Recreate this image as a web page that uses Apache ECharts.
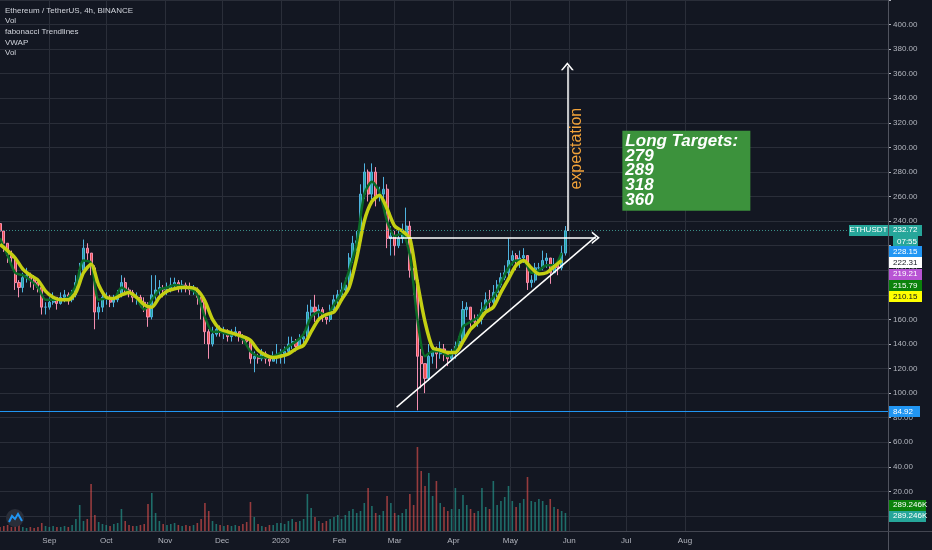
<!DOCTYPE html>
<html>
<head>
<meta charset="utf-8">
<script src="https://cdn.jsdelivr.net/npm/echarts@6/dist/echarts.min.js"></script>
<style>
html,body{margin:0;padding:0;background:#131722;overflow:hidden;}
#c{width:932px;height:550px;}
</style>
</head>
<body>
<div id="c"></div>
<script>
// ---------------- DATA ----------------
const startDate = '2019-08-06';
const totalDays = 469;          // daily categories of the time axis
const candleStepDays = 2;       // one candle every 2 days
const maStepDays = 4;           // moving-average samples every 4 days
const firstOpen = 238;

const closes = [
232,222,212,210,190,186,194,196,192,190,186,170,170,
174,178,173,178,180,176,180,190,200,218,214,202,166,170,178,
178,174,176,180,190,184,182,178,178,174,172,162,180,184,186,184,
184,188,190,186,188,186,184,184,178,174,150,140,148,152,150,
150,146,148,150,146,144,142,128,130,128,132,128,126,130,130,
132,134,140,142,138,144,146,166,170,166,168,162,160,168,176,180,
184,188,210,222,224,262,280,262,280,260,262,266,226,228,
220,226,230,236,200,192,130,124,112,130,134,132,136,134,128,132,
138,142,168,170,160,158,160,168,176,174,182,188,194,198,208,
212,208,210,212,190,192,202,202,208,210,198,204,202,214,232
];
const highs = [
242,232,222,216,212,192,198,202,198,196,192,188,174,
178,182,178,182,184,182,184,196,206,225,222,214,204,174,182,
182,180,180,184,196,194,186,184,182,180,178,174,196,196,192,188,
190,194,194,192,192,190,190,188,186,178,176,152,154,156,155,
154,152,152,154,150,148,146,142,134,132,136,134,130,134,140,
136,138,146,146,144,148,150,172,176,180,172,170,164,172,180,184,
190,194,214,228,232,270,287,282,287,284,268,276,270,236,
232,232,238,251,240,202,196,136,124,140,140,138,142,140,134,136,
142,146,175,174,170,164,164,174,182,184,188,192,198,204,226,
216,214,216,218,212,196,206,206,216,214,210,210,208,220,236
];
const lows = [
228,215,206,204,184,178,182,190,186,184,182,164,164,
168,172,168,172,174,172,174,178,188,198,208,196,152,160,166,
172,170,170,174,178,180,178,174,172,170,166,154,160,176,180,178,
180,182,184,182,182,182,180,180,172,160,140,128,138,146,146,
144,142,142,146,142,140,138,124,117,124,126,124,122,126,124,
124,124,132,136,134,136,140,144,162,158,160,158,156,158,166,172,
178,182,186,206,216,220,258,256,258,252,256,256,218,212,
212,218,222,226,194,180,86,104,100,110,124,120,128,126,122,126,
128,134,140,162,154,154,154,156,166,168,170,178,186,192,194,
204,200,202,206,184,186,190,196,200,202,189,198,196,200,212
];
const volumes = [
4,5,6,4,9,6,4,3,4,3,4,8,5,
4,5,4,4,5,4,6,12,26,10,12,47,16,9,7,
6,5,7,8,22,10,6,5,5,6,7,27,38,18,10,7,
6,7,8,6,5,6,5,6,8,12,28,20,10,7,6,
5,6,5,6,5,7,9,29,14,7,5,4,6,6,8,
8,7,10,12,9,10,12,37,23,14,10,8,10,12,14,16,
12,16,20,22,18,20,28,43,25,18,16,20,35,28,18,16,18,22,37,26,
84,60,45,58,35,50,28,24,20,22,
43,22,36,26,22,18,20,43,24,22,50,26,30,34,45,
30,24,28,32,54,30,29,32,30,26,32,24,22,20,18
];
const yellowLine = [
221,216,210,201,196,192,183,178,176,176,182,198,205,188,178,
177,180,182,178,172,170,178,183,185,186,186,184,175,160,152,
150,148,146,143,135,131,129,130,132,136,139,150,160,164,166,
176,186,210,240,256,261,250,236,232,226,190,158,137,135,133,
133,142,152,158,166,170,182,193,204,208,202,197,198,203,208
];
const greenLine = [
226,212,198,196,192,186,176,176,176,178,188,208,206,176,177,
177,186,182,177,168,176,184,186,188,187,185,180,162,150,150,
148,148,144,134,130,129,130,133,138,142,148,162,166,163,172,
182,200,222,262,272,264,240,228,230,212,160,130,134,134,130,
136,154,158,162,172,178,190,202,208,208,198,200,204,204,214
];
const monthTickDates = ['2019-09-01','2019-10-01','2019-11-01','2019-12-01','2020-01-01','2020-02-01',
  '2020-03-01','2020-04-01','2020-05-01','2020-06-01','2020-07-01','2020-08-01'];
const monthTickLabels = ['Sep','Oct','Nov','Dec','2020','Feb','Mar','Apr','May','Jun','Jul','Aug'];
const legendLines = ['Ethereum / TetherUS, 4h, BINANCE','Vol','fabonacci Trendlines','VWAP','Vol'];
const symbolName = 'ETHUSDT';
const lastPrice = 232.72;
const countdownText = '07:55';
const supportLevel = 84.92;
const sideLabelTexts = ['228.15','222.31','219.21','215.79','210.15'];
const volumeLabelTexts = ['289.246K','289.246K'];
const targetsText = ['Long Targets:','279','289','318','360'];
const expectationText = 'expectation';
// drawing anchors (date, price)
const breakoutLine = [['2020-02-27', 226.5], ['2020-06-15', 226.5]];
const trendLine = [['2020-03-02', 88.6], ['2020-06-15', 227.4]];
const targetArrow = [['2020-05-31', 232], ['2020-05-31', 366]];
const expectationAnchor = ['2020-06-05', 299];
const targetsBoxAnchor = ['2020-06-29', 313.5];

// ---------------- STYLE ----------------
const BG = '#131722', GRID = '#2a2e39', TXT = '#b2b5be';
const UP = '#26a69a', DOWN = '#ef5350';
const FONT = 'Liberation Sans, Arial, sans-serif';
const sideLabelColors = [['#2196f3','#ffffff'],['#ffffff','#131722'],['#b854d4','#ffffff'],['#0b820b','#ffffff'],['#ffff00','#131722']];
const volumeLabelColors = [['#0b820b','#ffffff'],['#26a69a','#ffffff']];
const chevron = 'path://M0,10 L5,0 L10,10 L8.5,10 L5,3 L1.5,10 Z';

// ---------------- BUILD ----------------
const categories = [];
const t0 = Date.parse(startDate + 'T00:00:00Z');
for (let k = 0; k < totalDays; k++) categories.push(new Date(t0 + k * 86400000).toISOString().slice(0, 10));
const idx = d => categories.indexOf(d);
const monthSet = new Set(monthTickDates);

const opens = closes.map((c, i) => i === 0 ? firstOpen : closes[i - 1]);
const candleData = closes.map((c, i) => [i * candleStepDays, opens[i], c, lows[i], highs[i]]);
const volData = volumes.map((v, i) => ({
  value: [i * candleStepDays, v],
  itemStyle: { color: closes[i] >= opens[i] ? 'rgba(38,166,154,0.6)' : 'rgba(239,83,80,0.6)' }
}));
const yellowData = yellowLine.map((v, j) => [j * maStepDays, v]);
const greenData = greenLine.map((v, j) => [j * maStepDays, v]);
const pt = p => [idx(p[0]), p[1]];

const chart = echarts.init(document.getElementById('c'));
chart.setOption({
  backgroundColor: BG,
  animation: false,
  grid: [
    { left: 0, right: 44, top: -1, bottom: 34 },
    { left: 0, right: 44, top: 431, bottom: 19 }
  ],
  xAxis: [
    { type: 'category', gridIndex: 0, data: categories, boundaryGap: false,
      axisLine: { show: false }, axisTick: { show: false }, axisLabel: { show: false },
      splitLine: { show: true, interval: (i, v) => monthSet.has(v), lineStyle: { color: GRID, width: 1 } } },
    { type: 'category', gridIndex: 1, data: categories, boundaryGap: false,
      axisLine: { show: true, lineStyle: { color: '#434651' } }, axisTick: { show: false },
      axisLabel: { show: true, interval: (i, v) => monthSet.has(v), color: TXT, fontSize: 8, fontFamily: FONT, margin: 6,
        formatter: v => monthTickLabels[monthTickDates.indexOf(v)] || '' },
      splitLine: { show: true, interval: (i, v) => monthSet.has(v), lineStyle: { color: GRID, width: 1 } } }
  ],
  yAxis: [
    { type: 'value', gridIndex: 0, position: 'right', min: 0, max: 420, interval: 20,
      axisLine: { show: false }, axisTick: { show: true, length: 3, lineStyle: { color: TXT } },
      axisLabel: { color: TXT, fontSize: 8, fontFamily: FONT, margin: 5,
        formatter: v => (v > 0 && v <= 400) ? v.toFixed(2) : '' },
      splitLine: { show: true, lineStyle: { color: GRID, width: 1 } } },
    { type: 'value', gridIndex: 1, min: 0, max: 100, show: false }
  ],
  series: [
    { type: 'bar', xAxisIndex: 1, yAxisIndex: 1, data: volData, barWidth: 1.6, z: 1 },
    { type: 'candlestick', xAxisIndex: 0, yAxisIndex: 0, data: candleData, barWidth: 2.6, z: 2,
      dimensions: ['day', 'open', 'close', 'lowest', 'highest'],
      encode: { x: 'day', y: ['open', 'close', 'lowest', 'highest'] },
      itemStyle: { color: UP, color0: DOWN, borderColor: '#4fb3e0', borderColor0: '#f48fb1', borderWidth: 1 } },
    { type: 'line', xAxisIndex: 0, yAxisIndex: 0, data: greenData, smooth: 0.25, showSymbol: false, z: 3,
      lineStyle: { color: '#0b6a26', width: 2.5 } },
    { type: 'line', xAxisIndex: 0, yAxisIndex: 0, data: yellowData, smooth: 0.25, showSymbol: false, z: 4,
      lineStyle: { color: '#c4cf12', width: 3.5 } },
    { type: 'line', xAxisIndex: 0, yAxisIndex: 0, data: [], z: 6,
      markLine: {
        silent: true, symbol: ['none', 'none'], label: { show: false }, animation: false,
        data: [
          { yAxis: lastPrice, lineStyle: { color: '#3a8f88', type: [1, 2], width: 1 } },
          { yAxis: supportLevel, lineStyle: { color: '#2196f3', type: 'solid', width: 1 } },
          [ { coord: pt(breakoutLine[0]), symbol: 'none', lineStyle: { color: '#ffffff', width: 1.5, type: 'solid' } },
            { coord: pt(breakoutLine[1]), symbol: chevron, symbolSize: [13, 8] } ],
          [ { coord: pt(trendLine[0]), symbol: 'none', lineStyle: { color: '#ffffff', width: 1.5, type: 'solid' } },
            { coord: pt(trendLine[1]), symbol: 'none' } ],
          [ { coord: pt(targetArrow[0]), symbol: 'none', lineStyle: { color: '#ffffff', width: 1.5, type: 'solid' } },
            { coord: pt(targetArrow[1]), symbol: chevron, symbolSize: [13, 8] } ]
        ]
      } }
  ]
});

// ---------------- ANNOTATIONS (positioned through the axes) ----------------
const yPix = v => chart.convertToPixel({ yAxisIndex: 0 }, v);
const xyPix = p => chart.convertToPixel({ gridIndex: 0 }, pt(p));
const boxH = 11, axisX = 889;
const graphics = [];
function box(x, yc, w, text, bg, fg) {
  graphics.push({ type: 'rect', shape: { x: x, y: Math.round(yc - boxH / 2), width: w, height: boxH }, style: { fill: bg }, z: 100 });
  graphics.push({ type: 'text', x: x + 4, y: yc, style: { text: text, fill: fg, font: '8px ' + FONT, verticalAlign: 'middle', align: 'left' }, z: 101 });
}
// legend block
graphics.push({ type: 'text', left: 5, top: 5, z: 100,
  style: { text: legendLines.join('\n'), fill: '#d1d4dc', font: '8px ' + FONT, lineHeight: 10.7 } });
// price-scale separator and bottom line extension
graphics.push({ type: 'line', shape: { x1: 888.5, y1: 0, x2: 888.5, y2: 550 }, style: { stroke: '#50535e', lineWidth: 1 }, z: 90 });
graphics.push({ type: 'line', shape: { x1: 888, y1: 531.5, x2: 932, y2: 531.5 }, style: { stroke: '#434651', lineWidth: 1 }, z: 90 });
// last price
const yLast = yPix(lastPrice);
graphics.push({ type: 'rect', shape: { x: 849, y: Math.round(yLast - boxH / 2), width: 39, height: boxH }, style: { fill: UP }, z: 100 });
graphics.push({ type: 'text', x: 868.5, y: yLast, style: { text: symbolName, fill: '#fff', font: '8px ' + FONT, align: 'center', verticalAlign: 'middle' }, z: 101 });
box(axisX, yLast, 33, lastPrice.toFixed(2), UP, '#fff');
box(axisX + 4, yLast + 11.5, 25, countdownText, UP, '#fff');
sideLabelTexts.forEach((t, k) => box(axisX, yLast + 21.5 + k * 11.3, 33, t, sideLabelColors[k][0], sideLabelColors[k][1]));
box(axisX, yPix(supportLevel), 31, supportLevel.toFixed(2), '#2196f3', '#fff');
const yZero = yPix(0);
volumeLabelTexts.forEach((t, k) => box(axisX, yZero - 11 + k * 11, 37, t, volumeLabelColors[k][0], volumeLabelColors[k][1]));
// expectation text
const ep = xyPix(expectationAnchor);
graphics.push({ type: 'text', x: ep[0], y: ep[1], rotation: Math.PI / 2, z: 100,
  style: { text: expectationText, fill: '#f2a33a', font: '16px ' + FONT, align: 'center', verticalAlign: 'middle' } });
// targets box
const tb = xyPix(targetsBoxAnchor);
graphics.push({ type: 'rect', shape: { x: tb[0], y: tb[1], width: 128, height: 80 }, style: { fill: '#3c923c' }, z: 100 });
graphics.push({ type: 'text', x: tb[0] + 3, y: tb[1] + 3, z: 101,
  style: { text: targetsText.join('\n'), fill: '#ffffff', font: 'italic bold 17px ' + FONT, lineHeight: 14.7 } });
// logo
graphics.push({ type: 'circle', shape: { cx: 15, cy: 518, r: 9 }, style: { fill: '#2a2e39' }, z: 100 });
graphics.push({ type: 'polyline', shape: { points: [[9, 522], [12, 516], [15, 519], [18, 514], [22, 521]] }, style: { stroke: '#2196f3', lineWidth: 2, fill: null }, z: 101 });
chart.setOption({ graphic: graphics });
</script>
</body>
</html>
